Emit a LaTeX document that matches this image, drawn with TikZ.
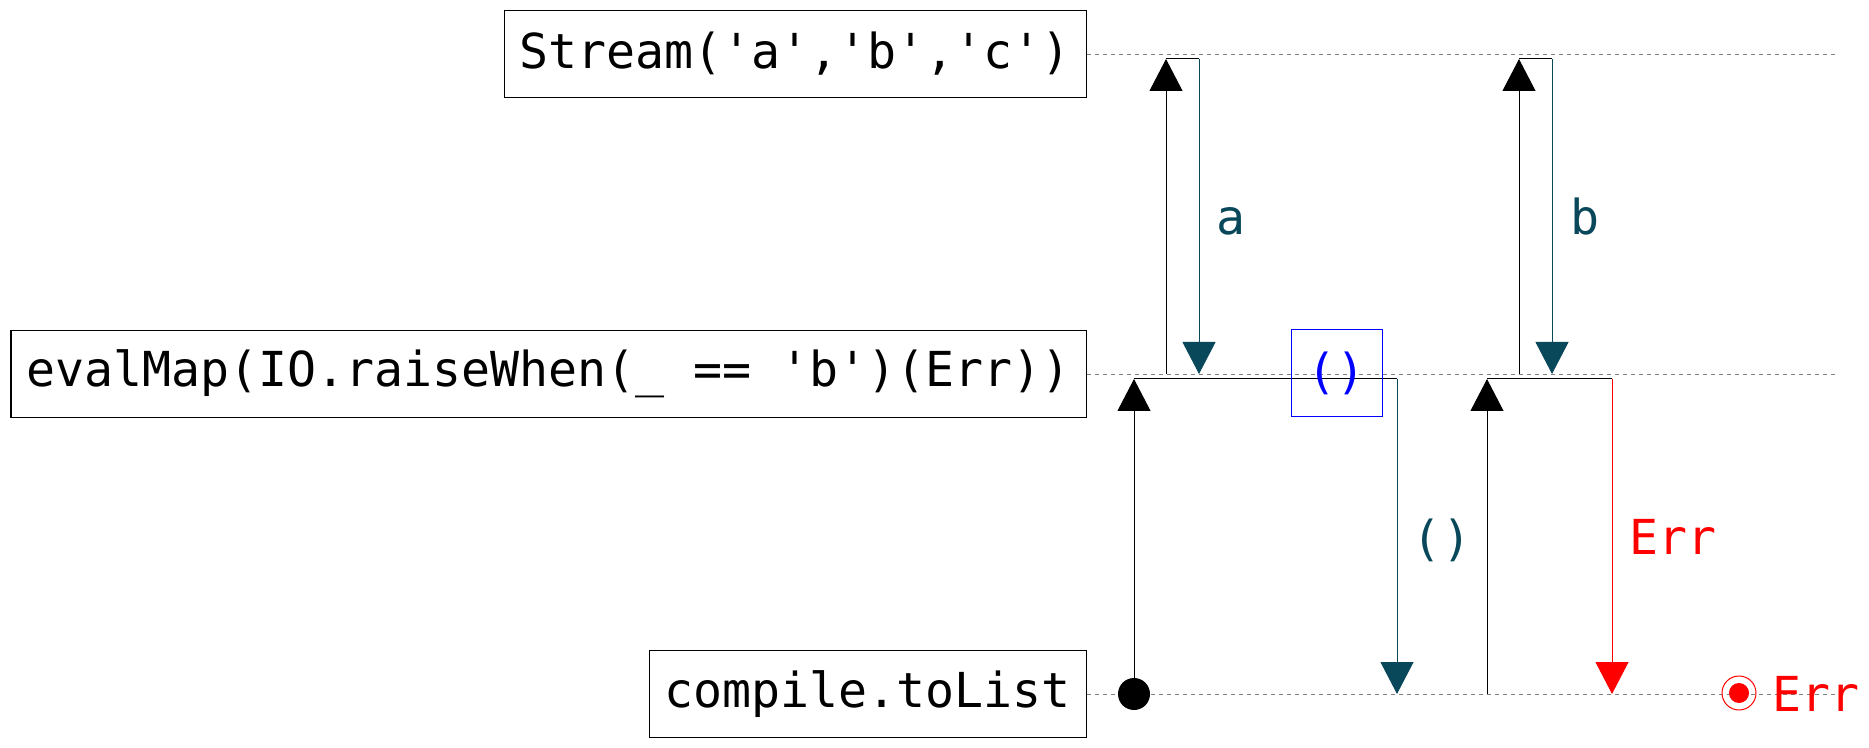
\documentclass[tikz,border=0pt]{standalone}
\usepackage{fontspec}
\setmonofont{DejaVu Sans Mono}
\usetikzlibrary{arrows.meta}
\definecolor{emitcolor}{RGB}{8,72,90}

\begin{document}
\begin{tikzpicture}[x=0.5pt, y=-0.5pt, font=\ttfamily\fontsize{24.1pt}{28pt}\selectfont]
	\tikzstyle{lane} = [rectangle, draw, line width=0.6pt, anchor=east, inner xsep=7.7pt, minimum height=43.5pt]
	\tikzstyle{track} = [draw, gray, line width=0.4pt, dash pattern=on 2pt off 2pt]
	\tikzstyle{link} = [draw, line width=0.5pt]
	\tikzstyle{pull} = [link, -{Triangle[width=16.5pt, length=16pt]}]
	\tikzstyle{emit} = [link, emitcolor, -{Triangle[width=16.5pt, length=16pt]}]
	\tikzstyle{fail} = [link, red, -{Triangle[width=16.5pt, length=16pt]}]
	\tikzstyle{value} = [emitcolor, inner sep=0pt]
	
	\useasboundingbox (0,0) rectangle (1869,748);
	
	\node [lane] (stream) at (1087,54) {Stream('a','b','c')};
	\node [lane] (evalmap) at (1087,374) {evalMap(IO.raiseWhen(\_ == 'b')(Err))};
	\node [lane] (tolist) at (1087,694) {compile.toList};
	
	\coordinate (streamend) at (1836,54);
	\coordinate (evalmapend) at (1836,374);
	\coordinate (tolistend) at (1836,694);
	\path [track] (stream.east) -- (streamend);
	\path [track] (evalmap.east) -- (evalmapend);
	\path [track] (tolist.east) -- (tolistend);
	
	% pulls of evalMap on the stream
	\coordinate (pullA) at (1166,374);
	\coordinate (pullAtop) at (1166,59);
	\coordinate (emitAtop) at (1199,59);
	\coordinate (emitA) at (1199,374);
	\path [pull] (pullA) -- (pullAtop);
	\path [link] (pullAtop) -- (emitAtop);
	\path [emit] (emitAtop) -- (emitA);
	\node [value, anchor=base] (valueA) at (1231,235) {a};
	
	\coordinate (pullB) at (1519,374);
	\coordinate (pullBtop) at (1519,59);
	\coordinate (emitBtop) at (1552,59);
	\coordinate (emitB) at (1552,374);
	\path [pull] (pullB) -- (pullBtop);
	\path [link] (pullBtop) -- (emitBtop);
	\path [emit] (emitBtop) -- (emitB);
	\node [value, anchor=base] (valueB) at (1585,235) {b};
	
	% pulls of toList on evalMap
	\node [circle, fill, inner sep=0pt, minimum size=16pt] (start) at (1134,694) {};
	\coordinate (pullCtop) at (1134,379);
	\coordinate (emitCtop) at (1397,379);
	\coordinate (emitC) at (1397,694);
	\path [pull] (start.center) -- (pullCtop);
	\path [link] (pullCtop) -- (emitCtop);
	\path [emit] (emitCtop) -- (emitC);
	\node [value] (valueC) at (1442,540) {()};
	\node [draw=blue, line width=0.5pt, text=blue, minimum width=45.5pt, minimum height=43.5pt, inner sep=0pt] (unitbox) at (1336.5,373.5) {()};
	
	\coordinate (pullD) at (1487,694);
	\coordinate (pullDtop) at (1487,379);
	\coordinate (failDtop) at (1612,379);
	\coordinate (failD) at (1612,694);
	\path [pull] (pullD) -- (pullDtop);
	\path [link] (pullDtop) -- (failDtop);
	\path [fail] (failDtop) -- (failD);
	\node [red, anchor=base west, inner sep=0pt] (errD) at (1629,554) {Err};
	
	% end of toList
	\node [circle, draw=red, line width=0.5pt, inner sep=0pt, minimum size=17pt] (stop) at (1739,693) {};
	\fill [red] (stop.center) circle (5pt);
	\node [red, anchor=base west, inner sep=0pt] (errend) at (1772,711) {Err};
	
\end{tikzpicture}
\end{document}
